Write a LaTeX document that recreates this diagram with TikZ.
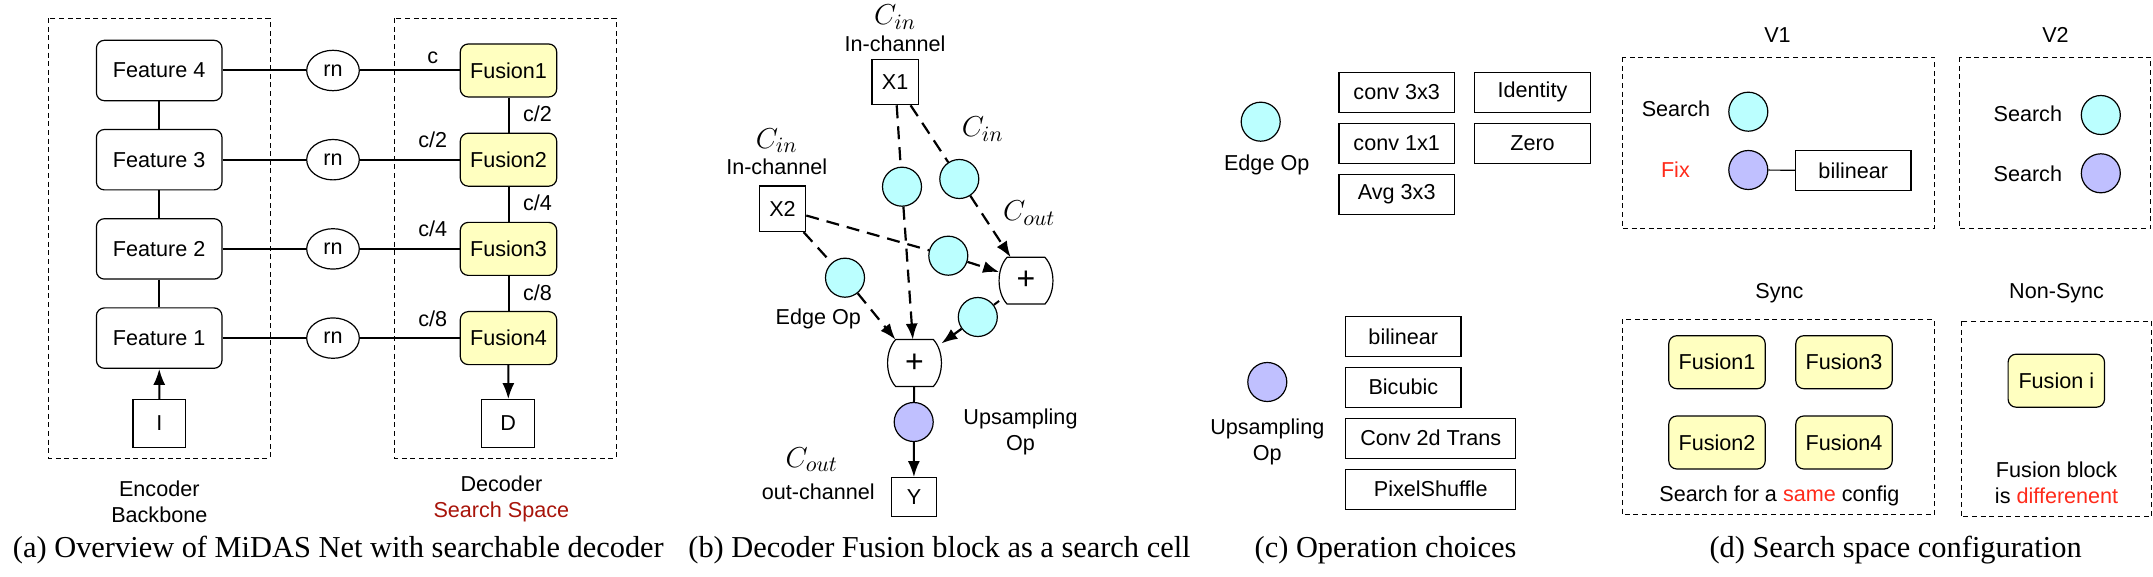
\documentclass[tikz,border=0pt]{standalone}
\usepackage{fontspec}
\setmainfont{Liberation Serif}
\setsansfont{Liberation Sans}
\usepackage{tikz}
\usetikzlibrary{arrows.meta,shapes.geometric}
\definecolor{edgecyan}{HTML}{BBFFFF}
\definecolor{upviolet}{HTML}{C0C0FF}
\definecolor{fuseyellow}{HTML}{FFFFC0}
\definecolor{fixred}{HTML}{FF2A1A}
\definecolor{spacered}{HTML}{A8140A}
\newcommand{\sumframe}[1]{%
  \draw[line width=0.6pt] ([xshift=4pt]#1.north west) -- ([xshift=-4pt]#1.north east)
    .. controls ([xshift=1.35pt,yshift=-5.8pt]#1.north east) and ([xshift=1.35pt,yshift=5.8pt]#1.south east) .. ([xshift=-4pt]#1.south east)
    -- ([xshift=4pt]#1.south west)
    .. controls ([xshift=-1.35pt,yshift=5.8pt]#1.south west) and ([xshift=-1.35pt,yshift=-5.8pt]#1.north west) .. cycle;}

\begin{document}
\begin{tikzpicture}[x=0.5pt,y=-0.5pt,
    lbl/.style={font=\sffamily\fontsize{10.8}{12.8}\selectfont, inner sep=0pt},
    mth/.style={font=\fontsize{15}{17}\selectfont, inner sep=0pt, anchor=base},
    captxt/.style={font=\fontsize{15.2}{18}\selectfont, inner sep=0pt},
    feat/.style={lbl, draw, line width=0.6pt, rounded corners=4pt, minimum width=62.8pt, minimum height=30.2pt},
    fuse/.style={lbl, draw, line width=0.6pt, fill=fuseyellow, rounded corners=4pt, minimum width=48.2pt, minimum height=26.5pt},
    rnode/.style={lbl, draw, ellipse, line width=0.6pt, minimum width=26.3pt, minimum height=20.2pt},
    io/.style={lbl, draw, line width=0.6pt},
    opbox/.style={lbl, draw, line width=0.6pt, minimum width=57.7pt, minimum height=20pt},
    edgeop/.style={draw, circle, fill=edgecyan, line width=0.6pt, minimum size=19.5pt, inner sep=0pt},
    upop/.style={edgeop, fill=upviolet},
    sumnode/.style={font=\sffamily\fontsize{16}{18}\selectfont, inner sep=0pt, minimum width=26.5pt, minimum height=23pt},
    dashbox/.style={line width=0.5pt, dash pattern=on 2.5pt off 1.8pt},
    link/.style={line width=1pt},
    flow/.style={line width=1.1pt, dash pattern=on 6.5pt off 4pt},
    arrowed/.style={-{Latex[length=8pt,width=6pt]}}]
\useasboundingbox (0,0) rectangle (2153,577);

\draw[dashbox] (48.3,18.3) rectangle (270,458);
\draw[dashbox] (394.3,18.3) rectangle (616,458);
\node[feat] (feat4) at (159.2,70.5) {Feature 4};
\node[feat] (feat3) at (159.2,159.7) {Feature 3};
\node[feat] (feat2) at (159.2,248.9) {Feature 2};
\node[feat] (feat1) at (159.2,338.1) {Feature 1};
\node[rnode] (rn4) at (333,70.5) {rn};
\node[rnode] (rn3) at (333,159.7) {rn};
\node[rnode] (rn2) at (333,248.9) {rn};
\node[rnode] (rn1) at (333,338.1) {rn};
\node[fuse] (fus1) at (508.5,70.5) {Fusion1};
\node[fuse] (fus2) at (508.5,159.7) {Fusion2};
\node[fuse] (fus3) at (508.5,248.9) {Fusion3};
\node[fuse] (fus4) at (508.5,338.1) {Fusion4};
\node[io, minimum width=26.4pt, minimum height=23.8pt] (inimg) at (159.3,423.5) {I};
\node[io, minimum width=26.4pt, minimum height=23.8pt] (depth) at (508.2,423.5) {D};
\draw[link] (feat4) -- (rn4) -- (fus1);
\draw[link] (feat3) -- (rn3) -- (fus2);
\draw[link] (feat2) -- (rn2) -- (fus3);
\draw[link] (feat1) -- (rn1) -- (fus4);
\draw[link] (feat4) -- (feat3) -- (feat2) -- (feat1);
\draw[link] (fus1) -- (fus2) -- (fus3) -- (fus4);
\draw[link, arrowed] (inimg) -- (feat1);
\draw[link, arrowed] (fus4) -- (depth);
\node[lbl] (ch1) at (432.7,57.3) {c};
\node[lbl] (ch2) at (432.7,140) {c/2};
\node[lbl] (ch3) at (432.7,229) {c/4};
\node[lbl] (ch4) at (432.7,318.7) {c/8};
\node[lbl] (ch12) at (537.5,114) {c/2};
\node[lbl] (ch23) at (537.5,203) {c/4};
\node[lbl] (ch34) at (537.5,292.3) {c/8};
\node[lbl, align=center] (enctxt) at (159.3,502) {Encoder\\Backbone};
\node[lbl, align=center] (dectxt) at (501.4,499) {Decoder\\\textcolor{spacered}{Search Space}};
\node[captxt] (capa) at (338.4,550) {(a) Overview of MiDAS Net with searchable decoder};

\node[io, minimum width=23.2pt, minimum height=22.7pt] (x1) at (895.2,82) {X1};
\node[io, minimum width=23.2pt, minimum height=22.7pt] (x2) at (782.5,208.8) {X2};
\node[mth] (cin1) at (895,25) {$C_{in}$};
\node[lbl] (inch1) at (895,44) {In-channel};
\node[mth] (cin2) at (776.7,148.3) {$C_{in}$};
\node[lbl] (inch2) at (776.7,166.7) {In-channel};
\node[mth] (cin3) at (982.7,136.7) {$C_{in}$};
\node[mth] (cout1) at (1029.3,221) {$C_{out}$};
\node[edgeop] (ea) at (902,186.7) {};
\node[edgeop] (eb) at (959.3,179) {};
\node[edgeop] (ec) at (948.3,255.7) {};
\node[edgeop] (ed) at (845,277.7) {};
\node[edgeop] (ee) at (977.8,317) {};
\node[sumnode] (sum1) at (1026,280.7) {+};
\node[sumnode] (sum2) at (914.5,363) {+};
\sumframe{sum1}
\sumframe{sum2}
\node[upop] (upb) at (913.7,422) {};
\node[io, minimum width=22.3pt, minimum height=19.5pt] (yout) at (914,497.2) {Y};
\node[lbl] (edgetxt) at (818.3,319.3) {Edge Op};
\node[lbl, align=center] (uptxt) at (1020.5,431.7) {Upsampling\\Op};
\node[mth] (cout2) at (811.7,467) {$C_{out}$};
\node[lbl] (outch) at (818.3,491.3) {out-channel};
\draw[flow] (x1) -- (ea);
\draw[flow, arrowed] (ea) -- (sum2);
\draw[flow] (x1) -- (eb);
\draw[flow, arrowed] (eb) -- (sum1);
\draw[flow] (x2) -- (ec);
\draw[flow, arrowed] (ec) -- (sum1);
\draw[flow] (x2) -- (ed);
\draw[flow, arrowed] (ed) -- (sum2);
\draw[link] (sum1) -- (ee);
\draw[flow, arrowed] (ee) -- (sum2);
\draw[link] (sum2) -- (upb);
\draw[link, arrowed] (upb) -- (yout);
\node[captxt] (capb) at (939.5,550) {(b) Decoder Fusion block as a search cell};

\node[edgeop] (opedge) at (1260.7,121.7) {};
\node[lbl] (opedgetxt) at (1266.7,165) {Edge Op};
\node[opbox] (conv3) at (1396.7,92.3) {conv 3x3};
\node[opbox] (conv1) at (1396.7,143.5) {conv 1x1};
\node[opbox] (avg3) at (1396.7,194.3) {Avg 3x3};
\node[opbox] (ident) at (1532.5,92.3) {Identity};
\node[opbox] (zero) at (1532.5,143.5) {Zero};
\node[upop] (opup) at (1267.3,382) {};
\node[lbl, align=center] (opuptxt) at (1267.3,442) {Upsampling\\Op};
\node[opbox] (bilin) at (1403.3,336.5) {bilinear};
\node[opbox] (bicub) at (1403.3,387.2) {Bicubic};
\node[opbox, minimum width=85pt] (convt) at (1430.7,438.2) {Conv 2d Trans};
\node[opbox, minimum width=85pt] (pxsh) at (1430.7,489.2) {PixelShuffle};
\node[captxt] (capc) at (1385.5,550) {(c) Operation choices};

\draw[dashbox] (1622.4,57.3) rectangle (1934.4,228.7);
\draw[dashbox] (1959.8,57.3) rectangle (2150.8,228.7);
\node[lbl] (vone) at (1777.5,35) {V1};
\node[lbl] (vtwo) at (2055.5,35) {V2};
\node[lbl] (srch1) at (1676,108.3) {Search};
\node[edgeop] (vone1) at (1748.3,111.7) {};
\node[lbl, text=fixred] (fixtxt) at (1675.4,170) {Fix};
\node[upop] (vone2) at (1748.3,170) {};
\node[opbox] (vonebil) at (1853.3,170.5) {bilinear};
\draw[line width=0.6pt] (vone2) -- (vonebil);
\node[lbl] (srch2) at (2027.8,114) {Search};
\node[edgeop] (vtwo1) at (2100.8,115) {};
\node[lbl] (srch3) at (2027.8,173.3) {Search};
\node[upop] (vtwo2) at (2100.8,173.3) {};
\draw[dashbox] (1622.4,319.3) rectangle (1934.4,514.7);
\draw[dashbox] (1961,321.3) rectangle (2151.5,516.7);
\node[lbl] (synctxt) at (1779.4,293.7) {Sync};
\node[lbl] (nsynctxt) at (2056.6,293.7) {Non-Sync};
\node[fuse] (sfus1) at (1717,362.2) {Fusion1};
\node[fuse] (sfus3) at (1844,362.2) {Fusion3};
\node[fuse] (sfus2) at (1717,442.5) {Fusion2};
\node[fuse] (sfus4) at (1844,442.5) {Fusion4};
\node[lbl] (sametxt) at (1779.4,496) {Search for a \textcolor{fixred}{same} config};
\node[fuse] (fusi) at (2056.3,380.7) {Fusion i};
\node[lbl, align=center] (difftxt) at (2056.6,482.8) {Fusion block\\is \textcolor{fixred}{differenent}};
\node[captxt] (capd) at (1895.6,550) {(d) Search space configuration};
\end{tikzpicture}
\end{document}
